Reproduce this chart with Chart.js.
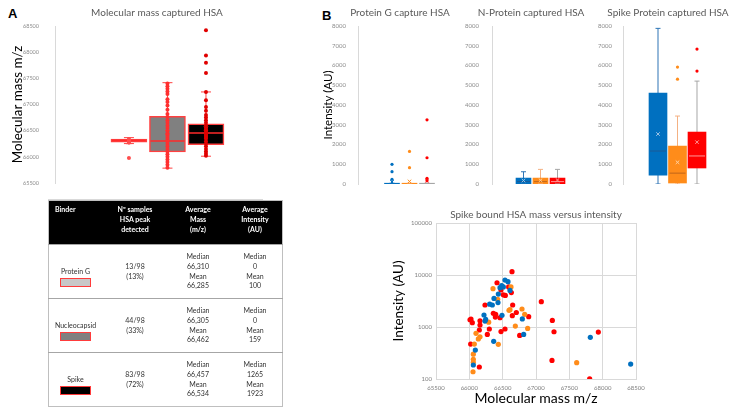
<!DOCTYPE html>
<html>
<head>
<meta charset="utf-8">
<script src="https://cdn.jsdelivr.net/npm/chart.js@4.4.1/dist/chart.umd.min.js"></script>
<style>
  body { margin: 0; background: #fff; }
  #wrap { position: relative; width: 736px; height: 414px; overflow: hidden; font-family: Lato, "Liberation Sans", sans-serif; }
  #wrap canvas { position: absolute; }
  .panel { position: absolute; font: bold 13px "Liberation Sans", Arial, sans-serif; color: #000; }
  #sep { position: absolute; left: 48px; top: 199px; width: 215px; height: 1px; background: #d9d9d9; }
  #tbl { position: absolute; left: 48px; top: 200px; width: 235px; height: 205px; border-collapse: collapse; table-layout: fixed;
         font-size: 7px; line-height: 9.8px; color: #333; border: 1px solid #bfbfbf; }
  #tbl th { background: #000; color: #fff; font-weight: bold; vertical-align: top; padding: 4px 1px 0; height: 39px; }
  #tbl th.c1 { text-align: left; padding-left: 6px; }
  #tbl td { text-align: center; vertical-align: middle; border-top: 1px solid #a6a6a6; padding: 0 1px; height: 53px; }
  #tbl td.c1 { padding-top: 11px; height: 42px; }
  .sw { width: 29px; height: 7px; margin: 2px auto 0; border: 1.5px solid #ff3b3b; }
</style>
</head>
<body>
<div id="wrap">
  <div class="panel" style="left:8px;top:6px">A</div>
  <div class="panel" style="left:322px;top:8px">B</div>

  <canvas id="massBox" width="314" height="200" style="left:0;top:0"></canvas>
  <div id="sep"></div>

  <canvas id="protG" width="164" height="200" style="left:318px;top:0"></canvas>
  <canvas id="nProt" width="162" height="200" style="left:450px;top:0"></canvas>
  <canvas id="spike" width="148" height="200" style="left:594px;top:0"></canvas>

  <canvas id="scatter" width="302" height="209" style="left:380px;top:205px"></canvas>

  <table id="tbl">
    <tr><th class="c1" style="width:46px">Binder</th><th style="width:64px">Nº samples<br>HSA peak<br>detected</th><th style="width:58px">Average<br>Mass<br>(m/z)</th><th>Average<br>Intensity<br>(AU)</th></tr>
    <tr><td class="c1">Protein G<div class="sw" style="background:#c8c8c8"></div></td><td>13/98<br>(13%)</td><td>Median<br>66,310<br>Mean<br>66,285</td><td>Median<br>0<br>Mean<br>100</td></tr>
    <tr><td class="c1">Nucleocapsid<div class="sw" style="background:#808080"></div></td><td>44/98<br>(33%)</td><td>Median<br>66,305<br>Mean<br>66,462</td><td>Median<br>0<br>Mean<br>159</td></tr>
    <tr><td class="c1">Spike<div class="sw" style="background:#000"></div></td><td>83/98<br>(72%)</td><td>Median<br>66,457<br>Mean<br>66,534</td><td>Median<br>1265<br>Mean<br>1923</td></tr>
  </table>
</div>

<script>
// ---- Panel A: molecular mass per binder (Protein G, Nucleocapsid, Spike)
const massLow = [66253, 65784, 66012];
const massQ1 = [66280, 66094, 66234];
const massMedian = [66310, 66303, 66455];
const massQ3 = [66340, 66772, 66633];
const massHigh = [66367, 67417, 67240];
const massMean = [66285, 66462, 66534];
const massDotsProtG = [66340, 66320, 66310, 66300, 66290, 66270, 65980];
const massDotsNucleo = [67400, 67350, 67300, 67250, 67200, 67100, 67050, 66980, 66900, 66820, 66760, 66700,
  66650, 66600, 66550, 66500, 66450, 66420, 66380, 66340, 66300, 66250, 66200, 66150, 66100, 66050, 66000,
  65950, 65900, 65850, 65790];
const massDotsSpike = [68420, 67935, 67800, 67600, 67240, 67080, 66950, 66880, 66800, 66750, 66700, 66650,
  66600, 66560, 66520, 66500, 66470, 66450, 66420, 66400, 66380, 66350, 66300, 66250, 66200, 66150, 66100,
  66060, 66020];

// ---- Panel B: intensity box plots (three sample groups each)
const pgLow = [0, 0, 0];
const pgQ1 = [0, 0, 0];
const pgMedian = [0, 0, 0];
const pgQ3 = [40, 40, 40];
const pgHigh = [40, 40, 40];
const pgMean = [100, 130, 150];
const pgDots = [[997, 624, 236], [1650, 827], [3250, 1330, 287, 170]];

const npLow = [0, 0, 0];
const npQ1 = [0, 0, 0];
const npMedian = [120, 120, 120];
const npQ3 = [300, 300, 300];
const npHigh = [620, 740, 740];
const npMean = [180, 190, 200];
const npDots = [[], [], []];

const spLow = [0, 0, 0];
const spQ1 = [450, 50, 810];
const spMedian = [1670, 550, 1420];
const spQ3 = [4600, 1920, 2630];
const spHigh = [7880, 3440, 5210];
const spMean = [2530, 1100, 2120];
const spDots = [[], [5920, 5310], [6830, 5720]];

// ---- Spike bound HSA: [mass m/z, intensity AU]
const spikeBlue = [[66535, 8000], [66580, 7450], [66485, 6250], [66460, 5700], [66510, 5900], [66610, 5050],
  [66435, 4300], [66370, 3550], [66430, 2950], [66305, 2750], [66345, 2650], [66220, 1700], [66245, 1400],
  [66235, 1300], [66490, 1680], [66795, 1430], [66815, 720], [66365, 530], [66090, 360], [66060, 186],
  [67815, 633], [68420, 194]];
const spikeOrange = [[66355, 5450], [66625, 5900], [66425, 3400], [66595, 2090], [66610, 2150], [66790, 2220],
  [66830, 1750], [66875, 940], [66690, 1040], [66290, 1240], [66100, 755], [66160, 650], [66135, 590],
  [66435, 465], [66075, 470], [66060, 300], [66060, 240], [66060, 210], [66055, 138], [67610, 206]];
const spikeRed = [[66640, 11600], [66415, 7100], [66590, 5900], [66475, 5150], [66630, 4600], [66510, 4150],
  [66540, 4050], [66235, 2650], [66650, 2650], [67080, 3070], [66360, 1830], [66395, 1750], [66705, 1900],
  [66460, 1510], [66645, 1650], [66890, 1580], [66390, 1550], [66025, 1420], [66010, 1380], [66045, 1210],
  [66160, 1320], [66160, 1090], [66150, 875], [66300, 915], [66535, 915], [66475, 815], [66270, 720],
  [66755, 690], [67245, 1340], [67270, 810], [67935, 800], [66020, 470], [66150, 170], [67240, 228], [67805, 101]];
const scatterYTicks = [100, 1000, 10000, 100000];

const blue = '#0070c0', orange = '#ff8c1a', red = '#ff0000';

Chart.defaults.font.family = 'Lato, "Liberation Sans", sans-serif';
Chart.defaults.animation = false;
Chart.defaults.layout.autoPadding = false;
Chart.defaults.plugins.legend.display = false;
Chart.defaults.plugins.tooltip.enabled = false;

// box plot: whisker stems and boxes are floating bars, caps/medians/means/dots are scatter points
function boxChart(id, s, look) {
  const xs = s.q1.map((v, i) => i + 1);
  const pts = arr => arr.map((y, i) => ({ x: xs[i], y }));
  const datasets = [
    { type: 'bar', data: xs.map((x, i) => ({ x, y: [s.low[i], s.high[i]] })), backgroundColor: look.whisker,
      grouped: false, maxBarThickness: 1, order: 6 },
    { type: 'bar', data: xs.map((x, i) => ({ x, y: [s.q1[i], s.q3[i]] })), backgroundColor: look.fill,
      borderColor: look.border, borderWidth: look.borderWidth, borderSkipped: false, barThickness: look.width, order: 5 },
    { type: 'scatter', data: pts(s.low).concat(pts(s.high)), pointStyle: 'line', pointRadius: look.cap,
      pointBorderColor: look.whisker.concat(look.whisker), pointBorderWidth: 1, order: 4 },
    { type: 'scatter', data: pts(s.median), pointStyle: 'line', pointRadius: look.width / 2 - 1,
      pointBorderColor: look.median, pointBorderWidth: look.medianWidth, order: 3 },
    { type: 'scatter', data: pts(s.mean), pointStyle: 'crossRot', pointRadius: look.meanSize,
      pointBorderColor: look.mean, pointBorderWidth: 1, order: 2 }
  ];
  s.dots.forEach((list, i) => datasets.push({
    type: 'scatter', data: list.map(y => ({ x: xs[i], y })), pointRadius: look.dot,
    pointBackgroundColor: look.dotColor[i], pointBorderWidth: 0, order: 1
  }));

  new Chart(document.getElementById(id), {
    type: 'bar',
    data: { datasets },
    options: {
      responsive: false,
      layout: { padding: { bottom: look.padBottom } },
      plugins: {
        title: { display: true, text: look.title, color: '#595959', font: { size: 10, weight: 'normal' },
          padding: { top: 7, bottom: 7 } }
      },
      scales: {
        x: { type: 'linear', display: false, offset: false, min: look.xMin, max: look.xMax },
        y: {
          min: look.yMin, max: look.yMax,
          ticks: { stepSize: look.yStep, color: '#8c8c8c', font: { size: look.tickSize }, padding: look.tickPad,
            callback: v => String(v) },
          grid: { display: false },
          border: { color: '#d9d9d9' },
          title: { display: !!look.yTitle, text: look.yTitle, color: '#000', font: { size: look.yTitleSize },
            padding: { top: look.yTitlePad, bottom: 0 } },
          afterFit: sc => { sc.width = look.axisWidth; }
        }
      }
    }
  });
}

boxChart('massBox',
  { low: massLow, q1: massQ1, median: massMedian, q3: massQ3, high: massHigh, mean: massMean,
    dots: [massDotsProtG, massDotsNucleo, massDotsSpike] },
  { title: 'Molecular mass captured HSA', yTitle: 'Molecular mass m/z', yTitleSize: 13.4, yTitlePad: 10,
    yMin: 65500, yMax: 68500, yStep: 500, tickSize: 5.5, tickPad: 8, axisWidth: 55,
    xMin: -0.92, xMax: 5.805, padBottom: 17,
    width: 36, borderWidth: 1.5, cap: 5, medianWidth: 1.5, meanSize: 3, dot: 2,
    fill: ['#c8c8c8', '#808080', '#000000'], border: '#ff4040', whisker: ['#ff4040', '#ff4040', '#ff4040'],
    median: '#ff2a2a', mean: '#ff4040', dotColor: ['#ff4d4d', '#ff3030', '#e00000'] });

const bLook = { yMin: 0, yMax: 8000, yStep: 1000, tickSize: 6, padBottom: 16, borderWidth: 0, cap: 2.5,
  medianWidth: 1, meanSize: 2.5, dot: 1.6, dotColor: [blue, orange, red] };

boxChart('protG',
  { low: pgLow, q1: pgQ1, median: pgMedian, q3: pgQ3, high: pgHigh, mean: pgMean, dots: pgDots },
  Object.assign({}, bLook, { title: 'Protein G capture HSA', yTitle: 'Intensity (AU)', yTitleSize: 11.5, yTitlePad: 3,
    tickPad: 4, axisWidth: 40, xMin: -0.943, xMax: 6.143, width: 15,
    fill: [blue, orange, '#a6a6a6'], border: [blue, orange, '#a6a6a6'], whisker: ['#2e75b6', '#f4b183', '#a6a6a6'],
    median: [blue, orange, '#a6a6a6'], mean: [blue, orange, '#ff6666'] }));

boxChart('nProt',
  { low: npLow, q1: npQ1, median: npMedian, q3: npQ3, high: npHigh, mean: npMean, dots: npDots },
  Object.assign({}, bLook, { title: 'N-Protein captured HSA', yTitle: '', tickPad: 5, axisWidth: 42,
    xMin: -0.853, xMax: 6.206, width: 15,
    fill: [blue, orange, red], border: [blue, orange, red], whisker: ['#2e75b6', '#f4b183', '#a6a6a6'],
    median: ['#1b5a96', '#c0651a', '#ff9999'], mean: ['#9dc3e6', '#ffd0a0', '#ff9999'] }));

boxChart('spike',
  { low: spLow, q1: spQ1, median: spMedian, q3: spQ3, high: spHigh, mean: spMean, dots: spDots },
  Object.assign({}, bLook, { title: 'Spike Protein captured HSA', yTitle: '', tickPad: 3, axisWidth: 29,
    xMin: -0.795, xMax: 5.308, width: 18,
    fill: [blue, orange, red], border: [blue, orange, red], whisker: ['#2e75b6', '#f4b183', '#a6a6a6'],
    median: ['#1b5a96', '#c0651a', '#ff9999'], mean: ['#9dc3e6', '#ffd0a0', '#ff9999'] }));

// ---- scatter: spike bound HSA mass versus intensity
const toXY = arr => arr.map(p => ({ x: p[0], y: p[1] }));
new Chart(document.getElementById('scatter'), {
  type: 'scatter',
  data: {
    datasets: [
      { data: toXY(spikeBlue), pointBackgroundColor: blue, pointBorderWidth: 0, pointRadius: 2.6 },
      { data: toXY(spikeOrange), pointBackgroundColor: orange, pointBorderWidth: 0, pointRadius: 2.6 },
      { data: toXY(spikeRed), pointBackgroundColor: red, pointBorderWidth: 0, pointRadius: 2.6 }
    ]
  },
  options: {
    responsive: false,
    layout: { padding: { right: 46 } },
    plugins: {
      title: { display: true, fullSize: false, text: 'Spike bound HSA mass versus intensity', color: '#595959',
        font: { size: 10, weight: 'normal' }, padding: { top: 4, bottom: 2 } }
    },
    scales: {
      x: {
        type: 'linear', min: 65500, max: 68500,
        ticks: { stepSize: 500, color: '#7f7f7f', font: { size: 6 }, padding: 5, callback: v => String(v) },
        grid: { color: '#d9d9d9', drawTicks: false },
        border: { color: '#d9d9d9' },
        title: { display: true, text: 'Molecular mass m/z', color: '#000', font: { size: 14 }, padding: { top: 0, bottom: 7.6 } },
        afterFit: sc => { sc.height = 35; }
      },
      y: {
        type: 'logarithmic', min: 100, max: 100000,
        afterBuildTicks: sc => { sc.ticks = scatterYTicks.map(v => ({ value: v })); },
        ticks: { color: '#7f7f7f', font: { size: 6 }, padding: 4, callback: v => String(v) },
        grid: { color: '#d9d9d9', drawTicks: false },
        border: { color: '#d9d9d9' },
        title: { display: true, text: 'Intensity (AU)', color: '#000', font: { size: 13.5 }, padding: { top: 10.9, bottom: 0 } },
        afterFit: sc => { sc.width = 56; }
      }
    }
  }
});
</script>
</body>
</html>
